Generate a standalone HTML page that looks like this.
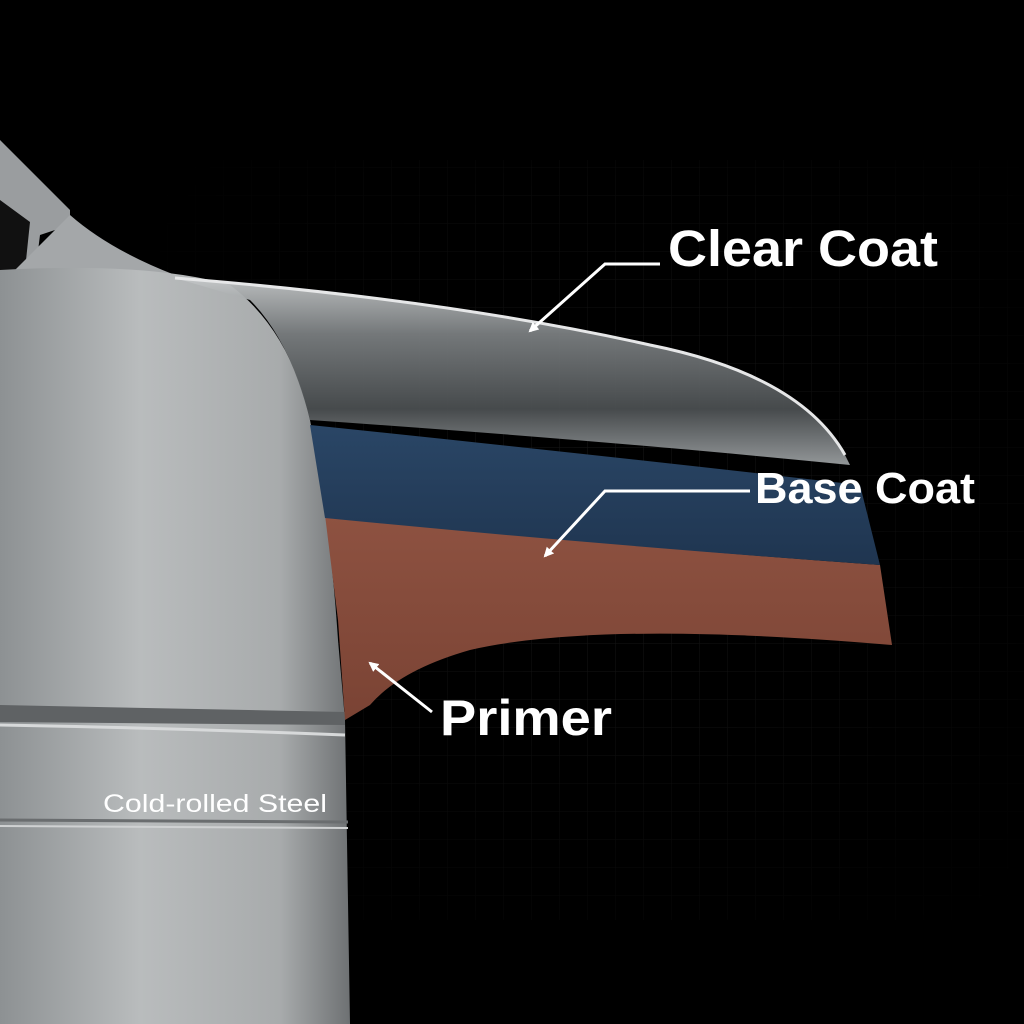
<!DOCTYPE html>
<html><head><meta charset="utf-8"><style>
html,body{margin:0;padding:0;background:#000;}
svg{display:block}
text{font-family:"Liberation Sans",sans-serif;fill:#fff}
</style></head><body>
<svg width="1024" height="1024" viewBox="0 0 1024 1024" xmlns="http://www.w3.org/2000/svg">
<defs>
<pattern id="grid" width="28" height="28" patternUnits="userSpaceOnUse">
<path d="M28 0V28H0" fill="none" stroke="#1a1a1a" stroke-width="1"/>
</pattern>
<radialGradient id="gfade" cx="0.6" cy="0.5" r="0.55">
<stop offset="0" stop-color="#fff" stop-opacity="1"/><stop offset="1" stop-color="#fff" stop-opacity="0"/>
</radialGradient>
<mask id="m"><rect width="1024" height="1024" fill="url(#gfade)"/></mask>
<linearGradient id="steel" x1="0" y1="0" x2="1" y2="0">
<stop offset="0" stop-color="#8d9193"/><stop offset="0.4" stop-color="#b9bcbd"/><stop offset="0.8" stop-color="#a8abac"/><stop offset="1" stop-color="#6e7173"/>
</linearGradient>
<linearGradient id="clear" x1="0" y1="0" x2="0" y2="1">
<stop offset="0" stop-color="#c4c7c8"/><stop offset="0.3" stop-color="#7a7e80"/><stop offset="0.7" stop-color="#4a4e50"/><stop offset="1" stop-color="#9a9ea0"/>
</linearGradient>
<linearGradient id="blue" x1="0" y1="0" x2="0" y2="1">
<stop offset="0" stop-color="#2a4666"/><stop offset="1" stop-color="#1f3550"/>
</linearGradient>
<linearGradient id="rust" x1="0" y1="0" x2="0" y2="1">
<stop offset="0" stop-color="#8e5241"/><stop offset="1" stop-color="#7a4334"/>
</linearGradient>
<marker id="ah" markerWidth="10" markerHeight="10" refX="8" refY="5" orient="auto" markerUnits="userSpaceOnUse">
<path d="M0 0L10 5L0 10Z" fill="#fff"/>
</marker>
</defs>
<rect width="1024" height="1024" fill="#000"/>
<rect x="160" y="160" width="864" height="760" fill="url(#grid)" mask="url(#m)"/>

<path d="M0 140 L70 210 L70 225 L40 235 L35 275 L0 280 Z" fill="#9a9d9f"/>
<path d="M0 200 L30 222 L25 270 L0 272 Z" fill="#111"/>
<path d="M70 215 Q110 250 175 275 L0 285 Z" fill="#a4a7a9"/>
<path d="M0 270 Q150 262 230 285 Q290 330 310 420 Q330 520 338 640 L345 720 L350 1024 L0 1024 Z" fill="url(#steel)"/>
<path d="M0 705 L345 712 L345 725 L0 722 Z" fill="#5f6264"/>
<path d="M0 725 Q170 728 345 735" stroke="#d7d9da" stroke-width="3" fill="none"/>
<path d="M0 820 L348 822" stroke="#6a6d6f" stroke-width="3"/>
<path d="M0 826 L348 828" stroke="#cfd1d2" stroke-width="2"/>

<path d="M325 515 Q600 545 880 565 L892 645 Q600 620 470 650 Q400 670 370 705 L345 720 L338 620 Z" fill="url(#rust)"/>
<path d="M310 425 Q600 455 860 485 L880 565 Q600 545 325 518 Z" fill="url(#blue)"/>
<path d="M175 278 Q450 300 650 345 Q800 375 845 455 L850 465 Q600 440 310 420 Q290 340 250 300 Z" fill="url(#clear)" opacity="0.95"/>
<path d="M175 278 Q450 300 650 345 Q800 375 845 455" stroke="#e6e7e8" stroke-width="3" fill="none"/>

<g stroke="#fff" stroke-width="3" fill="none">
<path d="M660 264 L605 264 L530 331" marker-end="url(#ah)"/>
<path d="M750 491 L605 491 L545 556" marker-end="url(#ah)"/>
<path d="M432 712 L370 663" marker-end="url(#ah)"/>
</g>

<text x="668" y="266" font-size="51" font-weight="bold" textLength="270" lengthAdjust="spacingAndGlyphs">Clear Coat</text>
<text x="755" y="503" font-size="44" font-weight="bold" textLength="220" lengthAdjust="spacingAndGlyphs">Base Coat</text>
<text x="440" y="735" font-size="50" font-weight="bold" textLength="172" lengthAdjust="spacingAndGlyphs">Primer</text>
<text x="103" y="812" font-size="25" textLength="224" lengthAdjust="spacingAndGlyphs">Cold-rolled Steel</text>
</svg>
</body></html>
